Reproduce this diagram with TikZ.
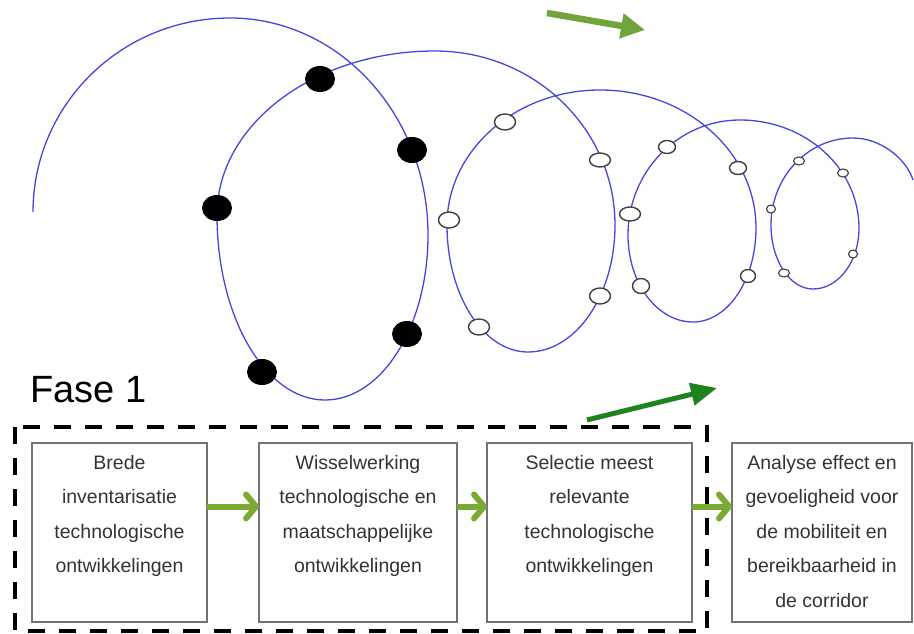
\documentclass[tikz,border=0pt]{standalone}
\usepackage{fontspec}
\setmainfont{Liberation Sans}
\usetikzlibrary{arrows.meta, shapes.geometric}

\definecolor{spiralblue}{RGB}{70,70,222}
\definecolor{leafgreen}{RGB}{122,170,50}
\definecolor{olivegreen}{RGB}{112,165,60}
\definecolor{deepgreen}{RGB}{30,130,30}

\begin{document}
\begin{tikzpicture}[x=1pt,y=-1pt,
  spiral/.style={draw=spiralblue,line width=1.3pt},
  black node/.style={ellipse,fill=black,inner sep=0,minimum width=30pt,minimum height=26pt},
  open node/.style={ellipse,draw=black!75,fill=white,line width=1.4pt,inner sep=0,minimum width=21pt,minimum height=16pt},
  mid node/.style={open node,minimum width=17pt,minimum height=13pt},
  small node/.style={open node,line width=1.1pt,minimum width=11pt,minimum height=8pt},
  step box/.style={rectangle,draw=black!55,line width=1.2pt,outer sep=0,minimum height=179pt},
  box text/.style={font=\fontsize{19.5}{34.5}\selectfont,text=black!80,align=center,inner sep=0,anchor=north,yshift=-12pt},
  flow/.style={draw=leafgreen,line width=6pt,-{Straight Barb[length=10pt,width=24pt,round]}},
  frame/.style={draw=black,line width=3.5pt,dash pattern=on 17pt off 14pt}]
  \useasboundingbox (0,0) rectangle (914,634);

  % spiral
  \draw[spiral] (33,212)
    .. controls (33,104.9) and (121.2,18) .. (230,18)
    .. controls (339.4,18) and (428,115.2) .. (428,235)
    .. controls (428,326.1) and (381.9,400) .. (325,400)
    .. controls (265.4,400) and (217,317.2) .. (217,215)
    .. controls (217,124.4) and (314.6,51) .. (435,51)
    .. controls (534.4,51) and (615,128.9) .. (615,225)
    .. controls (615,295.1) and (576.1,352) .. (528,352)
    .. controls (483.3,352) and (447,295.1) .. (447,225)
    .. controls (447,150.4) and (515.5,90) .. (600,90)
    .. controls (686.2,90) and (756,151.8) .. (756,228)
    .. controls (756,279.9) and (727.8,322) .. (693,322)
    .. controls (657.1,322) and (628,283.1) .. (628,235)
    .. controls (628,171.5) and (678.1,120) .. (740,120)
    .. controls (805.7,120) and (859,168.4) .. (859,228)
    .. controls (859,261.7) and (838.4,289) .. (813,289)
    .. controls (789.8,289) and (771,260.3) .. (771,225)
    .. controls (771,177) and (807.7,138) .. (853,138)
    .. controls (880,138) and (906,158) .. (913,180);

  %1
  \node[black node] (d1) at (320,79) {};
  \node[black node] (d2) at (412,150) {};
  \node[black node] (d3) at (217,208) {};
  \node[black node] (d4) at (407,334) {};
  \node[black node] (d5) at (262,372) {};
  %2
  \node[open node] (d6) at (505,122) {};
  \node[open node,minimum height=14pt] (d7) at (600,160) {};
  \node[open node] (d8) at (449,220) {};
  \node[open node] (d9) at (600,296) {};
  \node[open node] (d10) at (479,327) {};
  %3
  \node[mid node] (d11) at (667,147) {};
  \node[mid node] (d12) at (738,168) {};
  \node[open node,minimum height=14pt] (d13) at (630,214) {};
  \node[mid node,minimum width=15pt] (d14) at (748,276) {};
  \node[mid node,minimum height=15pt] (d15) at (641,286) {};
  %4
  \node[small node] (d16) at (799,161) {};
  \node[small node] (d17) at (843,173) {};
  \node[small node,minimum width=9pt] (d18) at (771,209) {};
  \node[small node,minimum width=9pt] (d19) at (853,254) {};
  \node[small node] (d20) at (784,273) {};

  % direction arrows
  \coordinate (t1) at (547,13);
  \coordinate (t2) at (645,30);
  \coordinate (u1) at (587,420);
  \coordinate (u2) at (717,388);
  \draw[draw=olivegreen,line width=6.5pt,-{Triangle[length=24pt,width=24pt]}] (t1) -- (t2);
  \draw[draw=deepgreen,line width=5pt,-{Triangle[length=26pt,width=22pt]}] (u1) -- (u2);

  \node[font=\fontsize{38}{40}\selectfont,anchor=base west,inner sep=0] (fase) at (30,402) {Fase 1};

  \draw[frame] (15,427) rectangle (707,631);

  \node[step box,minimum width=175pt,label={[box text]north:{Brede\\inventarisatie\\technologische\\ontwikkelingen}}] (b1) at (119.5,532.5) {};
  \node[step box,minimum width=198pt,label={[box text]north:{Wisselwerking\\technologische en\\maatschappelijke\\ontwikkelingen}}] (b2) at (358,532.5) {};
  \node[step box,minimum width=205pt,label={[box text]north:{Selectie meest\\relevante\\technologische\\ontwikkelingen}}] (b3) at (589.5,532.5) {};
  \node[step box,minimum width=180pt,label={[box text]north:{Analyse effect en\\gevoeligheid voor\\de mobiliteit en\\bereikbaarheid in\\de corridor}}] (b4) at (822,532.5) {};

  \path ([yshift=26pt]b1.east) edge[flow] ([yshift=26pt]b2.west)
        ([yshift=26pt]b2.east) edge[flow] ([yshift=26pt]b3.west)
        ([yshift=26pt]b3.east) edge[flow] ([yshift=26pt]b4.west);
\end{tikzpicture}
\end{document}
